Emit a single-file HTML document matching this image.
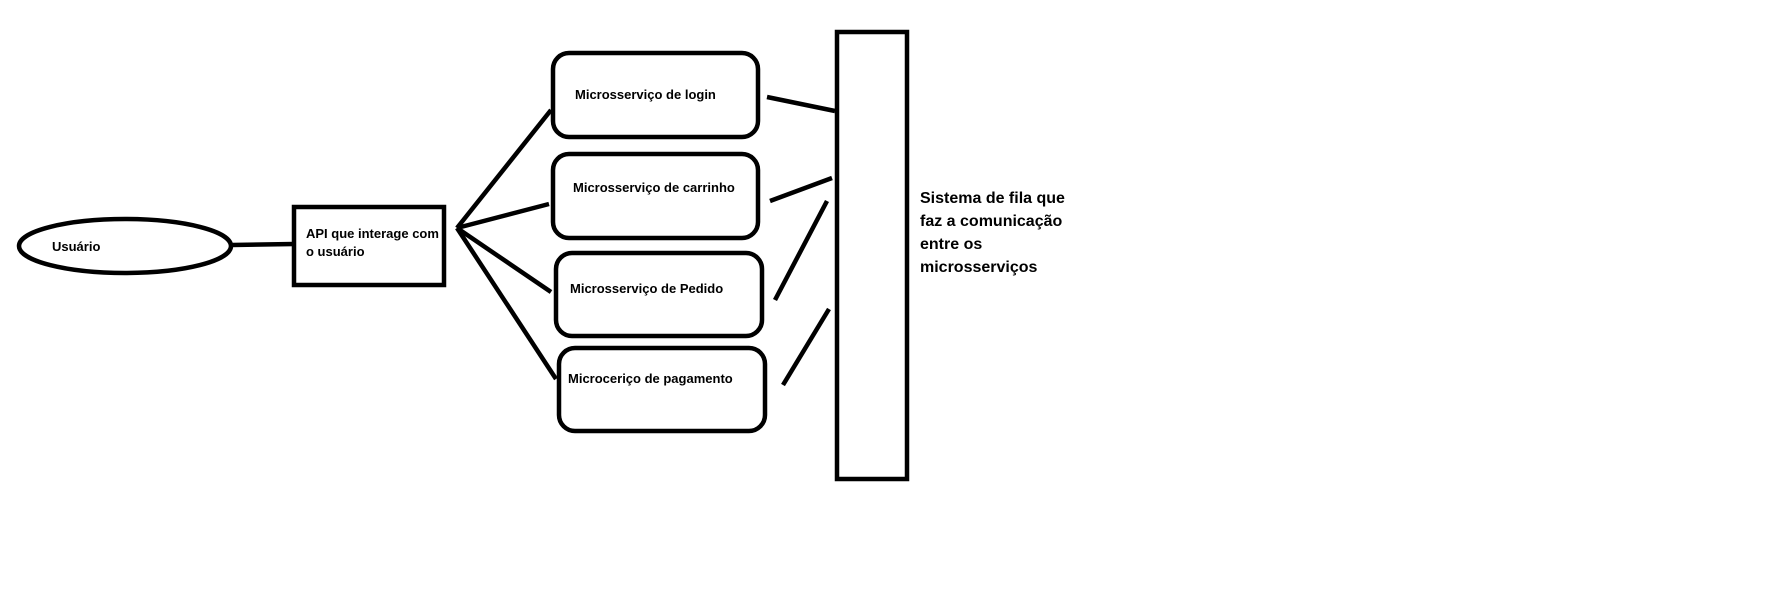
<!DOCTYPE html>
<html><head><meta charset="utf-8"><style>
html,body{margin:0;padding:0;background:#fff;}
svg{display:block;}
text{font-family:"Liberation Sans",sans-serif;font-weight:bold;fill:#000;}
</style></head><body>
<svg width="1766" height="596" viewBox="0 0 1766 596" xmlns="http://www.w3.org/2000/svg">
<rect width="1766" height="596" fill="#fff"/>
<g fill="none" stroke="#000" stroke-width="4.5" stroke-linecap="butt">
<ellipse cx="125" cy="246" rx="106" ry="27"/>
<rect x="294" y="207" width="150" height="78"/>
<rect x="553" y="53" width="205" height="84" rx="16"/>
<rect x="553" y="154" width="205" height="84" rx="16"/>
<rect x="556" y="253" width="206" height="83" rx="16"/>
<rect x="559" y="348" width="206" height="83" rx="16"/>
<rect x="837" y="32" width="70" height="447"/>
<line x1="232" y1="245" x2="294" y2="244"/>
<line x1="457" y1="228" x2="551" y2="110"/>
<line x1="457" y1="228" x2="549" y2="204"/>
<line x1="457" y1="228" x2="551" y2="292"/>
<line x1="457" y1="228" x2="556" y2="379"/>
<line x1="767" y1="97" x2="835" y2="111"/>
<line x1="770" y1="201" x2="832" y2="178"/>
<line x1="775" y1="300" x2="827" y2="201"/>
<line x1="783" y1="385" x2="829" y2="309"/>
</g>
<text x="52" y="251" font-size="13">Usuário</text>
<text x="306" y="238" font-size="13">API que interage com</text>
<text x="306" y="256" font-size="13">o usuário</text>
<text x="575" y="99" font-size="13">Microsserviço de login</text>
<text x="573" y="192" font-size="13">Microsserviço de carrinho</text>
<text x="570" y="293" font-size="13">Microsserviço de Pedido</text>
<text x="568" y="383" font-size="13">Microceriço de pagamento</text>
<text x="920" y="203" font-size="16">Sistema de fila que</text>
<text x="920" y="226" font-size="16">faz a comunicação</text>
<text x="920" y="249" font-size="16">entre os</text>
<text x="920" y="272" font-size="16">microsserviços</text>
</svg>
</body></html>
